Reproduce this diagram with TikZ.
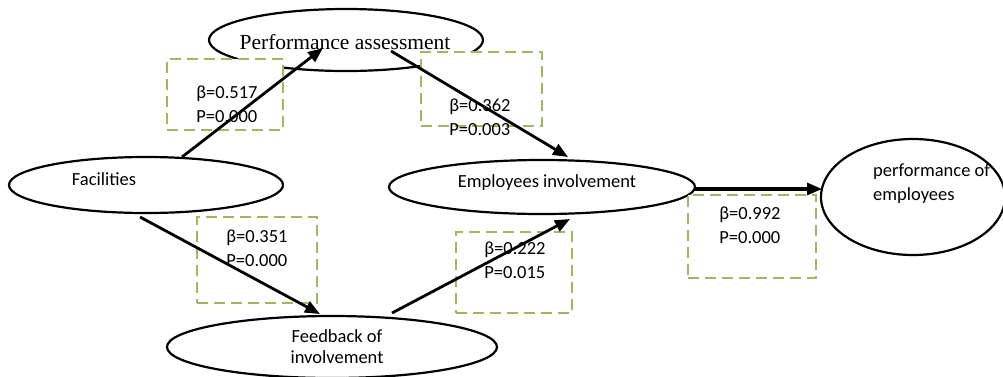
\documentclass[tikz,border=0pt]{standalone}
\usepackage{fontspec}
\setmainfont{Carlito}
\newfontfamily\timesf{Liberation Serif}
\usetikzlibrary{shapes.geometric,arrows.meta}
\definecolor{boxgreen}{HTML}{9BBB59}
\tikzset{
  oval/.style={draw=black, line width=2.2pt, ellipse, inner sep=0pt, fill=white},
  valbox/.style={draw=boxgreen, line width=2.8pt, dash pattern=on 11pt off 6pt, fill=white, inner sep=0pt},
  lbl/.style={inner sep=0pt, font=\fontsize{18.5}{24}\selectfont},
  vals/.style={lbl, align=left},
  link/.style={line width=2.8pt, -{Triangle[length=15pt,width=12pt]}},
}
\begin{document}
\begin{tikzpicture}[x=1pt,y=-1pt]
\useasboundingbox (0,0) rectangle (1003,376);
% ellipses
\node[oval, minimum width=274pt, minimum height=62pt] (pa) at (346,40) {};
\node[oval, minimum width=274pt, minimum height=56pt] (fac) at (146,185) {};
\node[oval, minimum width=330pt, minimum height=62pt] (fb) at (332,347) {};
\node[oval, minimum width=306pt, minimum height=54pt] (ei) at (542,187) {};
\node[oval, minimum width=184pt, minimum height=116pt] (poe) at (913,197) {};
% dashed boxes
\node[valbox, minimum width=116pt, minimum height=71pt] (b1) at (225,94.5) {};
\node[valbox, minimum width=121pt, minimum height=74pt] (b2) at (481.5,89) {};
\node[valbox, minimum width=120pt, minimum height=86pt] (b3) at (257,260) {};
\node[valbox, minimum width=116pt, minimum height=81pt] (b4) at (514,272.5) {};
\node[valbox, minimum width=128pt, minimum height=83pt] (b5) at (752,236.5) {};
% ellipse labels
\node[inner sep=0pt, font=\timesf\fontsize{21.5}{24}\selectfont] (tpa) at (345,42) {Performance assessment};
\node[lbl] (tfac) at (104,179) {Facilities};
\node[lbl] (tei) at (547,183) {Employees involvement};
\node[lbl, align=center, font=\fontsize{18.5}{21}\selectfont] (tfb) at (337,347) {Feedback of\\involvement};
\node[lbl, align=left, anchor=west] (tpoe) at (873,184) {performance of\\employees};
% values
\node[vals] (v1) at (227,104) {β=0.517\\P=0.000};
\node[vals] (v2) at (480,117) {β=0.362\\P=0.003};
\node[vals] (v3) at (257,248) {β=0.351\\P=0.000};
\node[vals] (v4) at (515,260) {β=0.222\\P=0.015};
\node[vals] (v5) at (750,225) {β=0.992\\P=0.000};
% arrows
\draw[link] ([shift={(36,-28)}]fac.center) -- ([shift={(-23,8)}]pa.center);
\draw[link] ([shift={(45,11)}]pa.center) -- ([shift={(26,-30)}]ei.center);
\draw[link] ([shift={(-6,32)}]fac.center) -- ([shift={(-12,-33)}]fb.center);
\draw[link] ([shift={(60,-34)}]fb.center) -- ([shift={(28,32)}]ei.center);
\draw[link, line width=3.2pt] ([shift={(153,2)}]ei.center) -- ([shift={(-91,-8)}]poe.center);
\end{tikzpicture}
\end{document}
